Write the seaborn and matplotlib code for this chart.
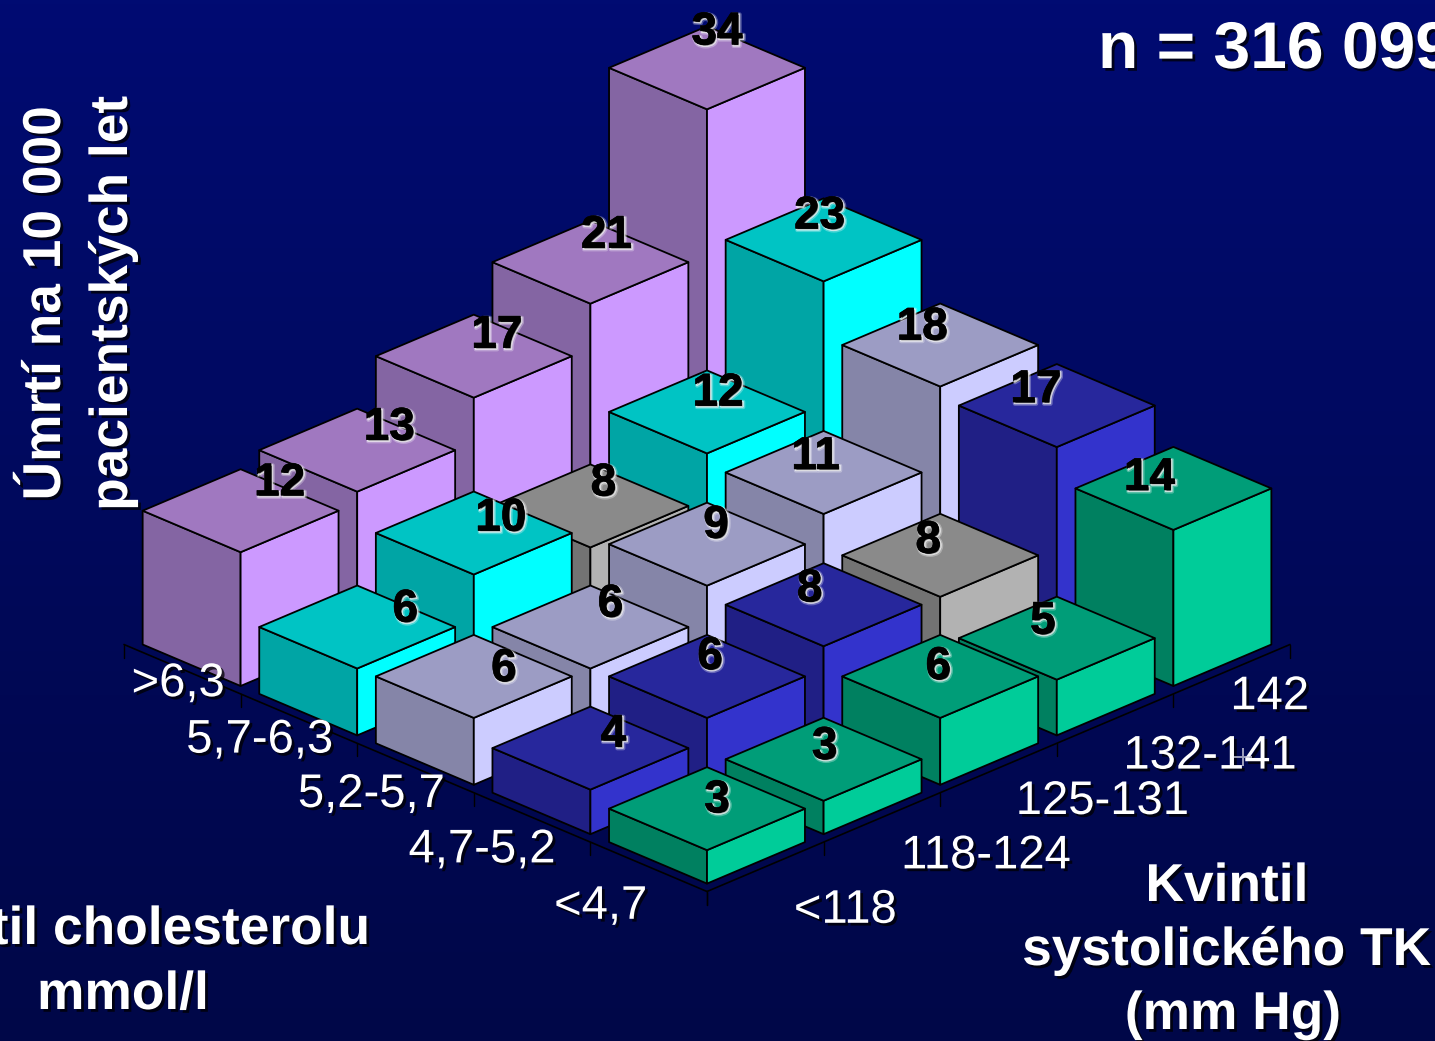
import numpy as np
import matplotlib
matplotlib.use("Agg")
import matplotlib.pyplot as plt
import matplotlib.patheffects as pe
from matplotlib.colors import LinearSegmentedColormap
import seaborn as sns

sns.set_theme(style="white")
plt.rcParams["font.family"] = ["Liberation Sans", "DejaVu Sans"]

# Mortality per 10 000 patient-years; columns follow the systolic BP quintiles
sbp_labels = ["<118", "118-124", "125-131", "132-141", "142"]
chol_labels = ["<4,7", "4,7-5,2", "5,2-5,7", "5,7-6,3", ">6,3"]
chol_below_47 = [3, 3, 6, 5, 14]
chol_47_52 = [4, 6, 8, 8, 17]
chol_52_57 = [6, 6, 9, 11, 18]
chol_57_63 = [6, 10, 8, 12, 23]
chol_above_63 = [12, 13, 17, 21, 34]
deaths = np.array([chol_below_47, chol_47_52, chol_52_57, chol_57_63, chol_above_63])

# Face shades of each bar family: left side, right side, top
purple = sns.color_palette(["#8465a3", "#cc99ff", "#a078c0"])
cyan = sns.color_palette(["#00a5a5", "#00ffff", "#00c4c4"])
lavender = sns.color_palette(["#8585a8", "#ccccff", "#9c9cc4"])
blue = sns.color_palette(["#201f85", "#3333cc", "#27279c"])
green = sns.color_palette(["#008060", "#00cc99", "#009d78"])
gray = sns.color_palette(["#737373", "#b2b2b2", "#8a8a8a"])
row_colors = [green, blue, lavender, cyan, purple]
special_cells = {(3, 2): gray, (1, 3): gray}

# Axonometric projection of the floor grid to figure pixels
ORIGIN_X, ORIGIN_Y = 707.0, 891.5
STEP_X, STEP_Y = 116.6, 49.4
UNIT_Z = 11.15
BAR_MARGIN = 0.08


def project(u, v, z=0.0):
    return (ORIGIN_X + (u - v) * STEP_X,
            ORIGIN_Y - (u + v) * STEP_Y - z * UNIT_Z)


fig = plt.figure(figsize=(14.35, 10.41), dpi=100)
ax = fig.add_axes([0, 0, 1, 1])
ax.set_xlim(0, 1435)
ax.set_ylim(1041, 0)
ax.axis("off")

# Slide background: navy fading to a darker tone downwards
backdrop = LinearSegmentedColormap.from_list(
    "slide", ["#000b72", "#000a64", "#000854", "#000748"])
ax.imshow(np.linspace(0, 1, 256)[:, None], cmap=backdrop, aspect="auto",
          extent=(0, 1435, 1041, 0), zorder=0)

# Floor edges with tick marks at the cell boundaries
for k in range(6):
    for u, v in ((k, 0), (0, k)):
        x, y = project(u, v)
        ax.plot([x, x], [y, y + 13], color="black", lw=1.0, zorder=1)
for end in ((5, 0), (0, 5)):
    a, b = project(0, 0), project(*end)
    ax.plot([a[0], b[0]], [a[1], b[1]], color="black", lw=1.2, zorder=1)

# Bars, painted from the back corner forwards
order = sorted(((j, i) for j in range(5) for i in range(5)),
               key=lambda c: -(c[0] + c[1]))
for z_index, (j, i) in enumerate(order):
    value = deaths[j, i]
    left_c, right_c, top_c = special_cells.get((j, i), row_colors[j])
    u0, u1 = i + BAR_MARGIN, i + 1 - BAR_MARGIN
    v0, v1 = j + BAR_MARGIN, j + 1 - BAR_MARGIN
    faces = [
        ([(u0, v1, 0), (u0, v0, 0), (u0, v0, value), (u0, v1, value)], left_c),
        ([(u0, v0, 0), (u1, v0, 0), (u1, v0, value), (u0, v0, value)], right_c),
        ([(u0, v1, value), (u0, v0, value), (u1, v0, value), (u1, v1, value)], top_c),
    ]
    for corners, color in faces:
        pts = np.array([project(*c) for c in corners])
        ax.fill(pts[:, 0], pts[:, 1], facecolor=color, edgecolor="black",
                lw=1.3, joinstyle="round", zorder=2 + z_index * 0.01)

white_glow = [pe.Stroke(linewidth=3.0, foreground="white", alpha=0.3, offset=(1.2, -1.2)),
              pe.Stroke(linewidth=1.2, foreground="white", alpha=0.75, offset=(1.0, -1.0)),
              pe.Stroke(linewidth=0.5, foreground="black"), pe.Normal()]
dark_shadow = [pe.withSimplePatchShadow(offset=(2.0, -2.0), shadow_rgbFace="black",
                                        alpha=0.75)]

# Value labels sit near the top face of each bar, nudged by these pixel offsets
label_dx = [[10, 1, -2, -14, -24], [23, 3, -14, -12, -21], [30, 20, 9, -8, -18],
            [48, 27, 13, 11, -4], [39, 32, 23, 16, 10]]
label_dy = [[-11, -15, -12, -19, -13], [-16, -22, -18, -17, -18], [-10, -25, -21, -18, -20],
            [-20, -17, -25, -21, -26], [-30, -25, -23, -29, -38]]
for j in range(5):
    for i in range(5):
        value = deaths[j, i]
        x, y = project(i + 0.5, j + 0.5, value)
        ax.text(x + label_dx[j][i], y + label_dy[j][i] + 2.5, str(value), color="black",
                fontsize=33, fontweight="bold", ha="center", va="center",
                path_effects=white_glow, zorder=5)

# Category labels along both floor edges
chol_dx, chol_dy = [-48, -50, -44, -39, -4], [40, 33, 27, 22, 15]
sbp_dx, sbp_dy = [80, 104, 104, 95, 38], [44, 39, 34, 38, 28]
for k in range(5):
    x, y = project(0, k + 0.5)
    ax.text(x + chol_dx[k], y + chol_dy[k], chol_labels[k], color="white", fontsize=34,
            ha="center", va="center", path_effects=dark_shadow, zorder=6)
    x, y = project(k + 0.5, 0)
    ax.text(x + sbp_dx[k], y + sbp_dy[k], sbp_labels[k], color="white", fontsize=34,
            ha="center", va="center", path_effects=dark_shadow, zorder=6)
ax.plot([1243], [757], marker="+", ms=13, mew=1.4, color="#c8c8d8", alpha=0.8, zorder=7)

# Titles
bold = dict(color="white", fontweight="bold", ha="center", va="center",
            path_effects=dark_shadow, zorder=6)
ax.text(1098, 51, "n = 316 099", fontsize=47.5, color="white", fontweight="bold",
        ha="left", va="center", path_effects=dark_shadow, zorder=6)
ax.text(46, 303, "Úmrtí na 10 000", fontsize=38.4, rotation=90, **bold)
ax.text(113, 303, "pacientských let", fontsize=38.4, rotation=90, **bold)
ax.text(123, 930, "Kvintil cholesterolu", fontsize=38.4, **bold)
ax.text(123, 995, "mmol/l", fontsize=38.4, **bold)
ax.text(1227, 887, "Kvintil", fontsize=38.4, **bold)
ax.text(1227, 951, "systolického TK", fontsize=38.4, **bold)
ax.text(1233, 1015, "(mm Hg)", fontsize=38.4, **bold)

fig.savefig("out.png", dpi=100)
